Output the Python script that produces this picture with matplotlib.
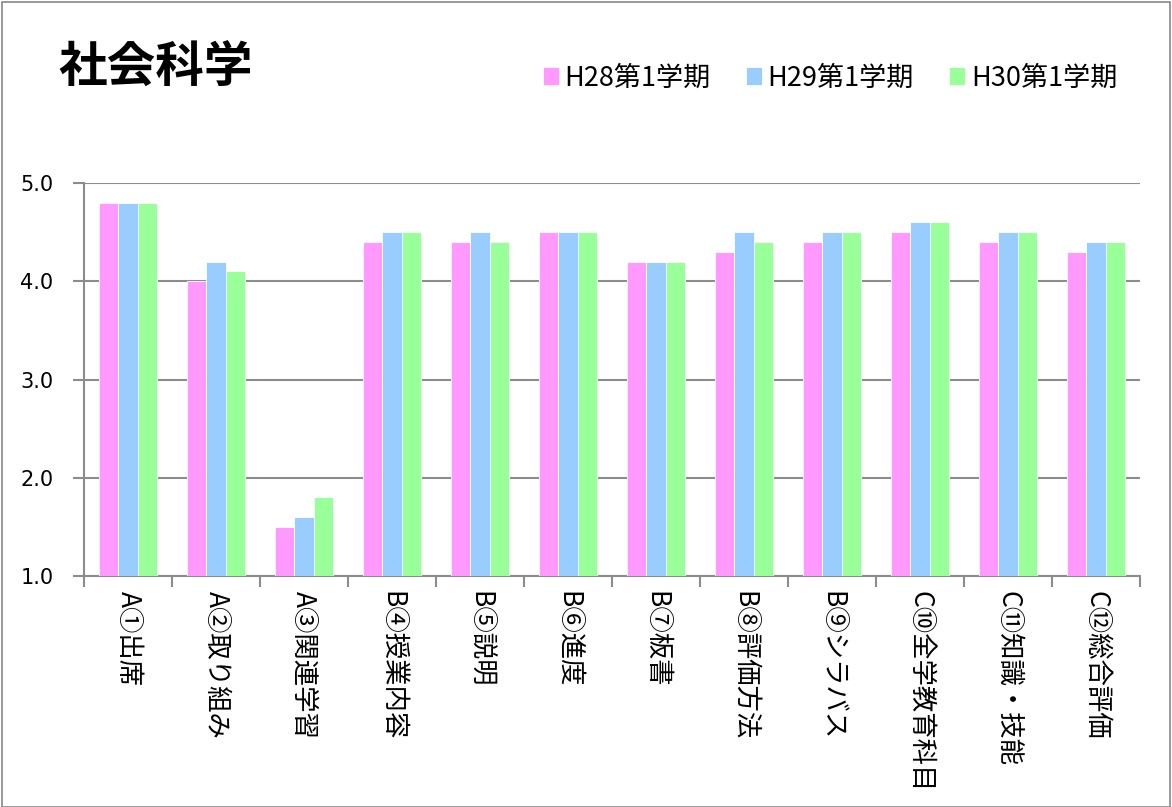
import matplotlib
matplotlib.use("Agg")
import matplotlib.pyplot as plt
import numpy as np
from matplotlib.patches import Rectangle

plt.rcParams['font.family'] = ['Noto Sans CJK JP', 'DejaVu Sans']

title = "社会科学"
categories = ["A①出席", "A②取り組み", "A③関連学習", "B④授業内容", "B⑤説明", "B⑥進度",
              "B⑦板書", "B⑧評価方法", "B⑨シラバス", "C⑩全学教育科目", "C⑪知識・技能", "C⑫総合評価"]
series_names = ["H28第1学期", "H29第1学期", "H30第1学期"]
h28 = [4.8, 4.0, 1.5, 4.4, 4.4, 4.5, 4.2, 4.3, 4.4, 4.5, 4.4, 4.3]
h29 = [4.8, 4.2, 1.6, 4.5, 4.5, 4.5, 4.2, 4.5, 4.5, 4.6, 4.5, 4.4]
h30 = [4.8, 4.1, 1.8, 4.5, 4.4, 4.5, 4.2, 4.4, 4.5, 4.6, 4.5, 4.4]
colors = ["#FF99FF", "#99CCFF", "#99FF99"]
yticks = [1.0, 2.0, 3.0, 4.0, 5.0]

fig = plt.figure(figsize=(11.72, 8.07), dpi=100)
fig.patches.append(Rectangle((0.0015, 0.0), 0.997, 0.998, transform=fig.transFigure,
                             fill=False, edgecolor="#888888", linewidth=1.2))
ax = fig.add_axes([84/1172, 1-576/807, (1140-84)/1172, (576-183)/807])

x = np.arange(len(categories))
w = 0.222
for i, (vals, name, c) in enumerate(zip([h28, h29, h30], series_names, colors)):
    ax.bar(x + (i-1)*w, np.array(vals) - 1.0, bottom=1.0, width=w, color=c,
           edgecolor="white", linewidth=0.6, label=name, zorder=3)

ax.set_xlim(-0.5, len(categories)-0.5)
ax.set_ylim(1.0, 5.0)
ax.set_yticks(yticks)
ax.set_yticklabels([f"{v:.1f}" for v in yticks], fontsize=15, family=['DejaVu Sans'])
ax.yaxis.grid(True, color="#8c8c8c", linewidth=1.5, zorder=1)
ax.tick_params(axis='y', length=8, color="#8c8c8c", width=1.5, pad=14)

ax.set_xticks(x)
ax.set_xticklabels(categories, rotation=270, fontsize=19, va='top', ha='center')
ax.tick_params(axis='x', length=0, pad=11)
ax.set_xticks(np.arange(-0.5, len(categories)), minor=True)
ax.tick_params(axis='x', which='minor', length=8, color="#8c8c8c", width=1.5)

for s in ['top', 'right']:
    ax.spines[s].set_visible(False)
for s in ['left', 'bottom']:
    ax.spines[s].set_color("#8c8c8c")
    ax.spines[s].set_linewidth(1.5)

fig.text(58/1172, 1-68/807, title, fontsize=35, fontweight='bold', va='center', ha='left')

handles, labels = ax.get_legend_handles_labels()
fig.legend(handles, labels, loc='center right', bbox_to_anchor=(1128/1172, 1-78/807),
           ncol=3, frameon=False, fontsize=19.5, handlelength=0.6, handleheight=0.6,
           handletextpad=0.2, columnspacing=1.3, borderaxespad=0)

fig.savefig("out.png", dpi=100)
